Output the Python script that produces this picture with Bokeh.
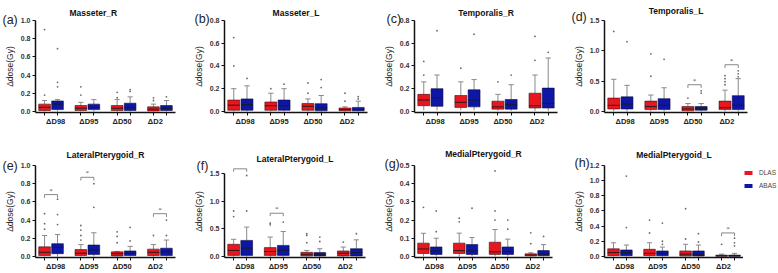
from bokeh.plotting import figure
from bokeh.models import (FactorRange, Range1d, ColumnDataSource, Legend, Title, Spacer,
                          LegendItem, FixedTicker, NumeralTickFormatter, CategoricalAxis)
from bokeh.transform import dodge
from bokeh.layouts import column, row
from bokeh.embed import file_html
from bokeh.resources import INLINE

CATS = ["ΔD98", "ΔD95", "ΔD50", "ΔD2"]
GROUPS = ["DLAS", "ABAS"]

# per category: (lower whisker, Q1, median, Q3, upper whisker)
MAS_R_DLAS = [(0.0, 0.01, 0.045, 0.08, 0.12), (0.0, 0.01, 0.035, 0.065, 0.10), (0.0, 0.01, 0.035, 0.065, 0.13), (0.0, 0.005, 0.025, 0.05, 0.08)]
MAS_R_DLAS_OUT = [[0.18, 0.90], [0.18, 0.27], [0.15, 0.21], [0.12, 0.15]]
MAS_R_ABAS = [(0.0, 0.02, 0.08, 0.115, 0.13), (0.0, 0.02, 0.045, 0.08, 0.13), (0.0, 0.01, 0.04, 0.09, 0.16), (0.0, 0.01, 0.035, 0.065, 0.12)]
MAS_R_ABAS_OUT = [[0.27, 0.32, 0.69], [], [0.22, 0.24], [0.16]]
MAS_R_SIG = []

MAS_L_DLAS = [(0.0, 0.01, 0.055, 0.10, 0.20), (0.0, 0.01, 0.05, 0.083, 0.16), (0.0, 0.01, 0.045, 0.07, 0.11), (0.0, 0.005, 0.015, 0.03, 0.04)]
MAS_L_DLAS_OUT = [[0.40, 0.65], [0.20], [0.16, 0.25], [0.09, 0.16]]
MAS_L_ABAS = [(0.0, 0.01, 0.06, 0.11, 0.225), (0.0, 0.01, 0.05, 0.10, 0.20), (0.0, 0.005, 0.03, 0.068, 0.14), (0.0, 0.005, 0.015, 0.035, 0.09)]
MAS_L_ABAS_OUT = [[0.29], [0.24], [0.21, 0.28], [0.11, 0.13]]
MAS_L_SIG = []

TEM_R_DLAS = [(0.01, 0.05, 0.10, 0.15, 0.26), (0.01, 0.035, 0.08, 0.14, 0.26), (0.005, 0.02, 0.04, 0.09, 0.15), (0.005, 0.03, 0.05, 0.16, 0.32)]
TEM_R_DLAS_OUT = [[0.32, 0.44], [0.38], [0.26], [0.45, 0.66]]
TEM_R_ABAS = [(0.01, 0.045, 0.12, 0.20, 0.32), (0.01, 0.04, 0.10, 0.19, 0.28), (0.005, 0.02, 0.06, 0.105, 0.235), (0.005, 0.03, 0.07, 0.205, 0.47)]
TEM_R_ABAS_OUT = [[0.71], [0.68], [0.32], [0.52]]
TEM_R_SIG = []

TEM_L_DLAS = [(0.0, 0.04, 0.10, 0.22, 0.53), (0.0, 0.03, 0.08, 0.17, 0.27), (0.0, 0.01, 0.04, 0.08, 0.13), (0.0, 0.03, 0.06, 0.17, 0.35)]
TEM_L_DLAS_OUT = [[1.32], [0.58, 0.95], [0.22], [0.44, 0.49, 0.54, 0.59]]
TEM_L_ABAS = [(0.0, 0.04, 0.12, 0.24, 0.43), (0.0, 0.03, 0.10, 0.21, 0.39), (0.0, 0.02, 0.05, 0.08, 0.13), (0.0, 0.03, 0.10, 0.26, 0.54)]
TEM_L_ABAS_OUT = [[1.15], [0.86], [0.30, 0.34], [0.57, 0.62, 0.67]]
TEM_L_SIG = [("ΔD50", 0.44), ("ΔD2", 0.77)]

LAT_R_DLAS = [(0.0, 0.01, 0.045, 0.105, 0.23), (0.0, 0.01, 0.035, 0.075, 0.13), (0.0, 0.005, 0.03, 0.05, 0.055), (0.0, 0.01, 0.045, 0.08, 0.13)]
LAT_R_DLAS_OUT = [[0.30, 0.36, 0.47], [0.18, 0.23, 0.29, 0.34], [0.15, 0.22, 0.27], [0.23]]
LAT_R_ABAS = [(0.0, 0.03, 0.10, 0.14, 0.24), (0.0, 0.02, 0.07, 0.125, 0.26), (0.0, 0.01, 0.035, 0.06, 0.11), (0.0, 0.01, 0.05, 0.09, 0.18)]
LAT_R_ABAS_OUT = [[0.35, 0.46, 0.63], [0.54, 0.80], [0.17, 0.32], [0.23, 0.40]]
LAT_R_SIG = [("ΔD98", 0.68), ("ΔD95", 0.87), ("ΔD2", 0.47)]

LAT_L_DLAS = [(0.0, 0.02, 0.11, 0.22, 0.31), (0.0, 0.02, 0.09, 0.16, 0.35), (0.0, 0.01, 0.04, 0.075, 0.11), (0.0, 0.01, 0.06, 0.10, 0.17)]
LAT_L_DLAS_OUT = [[0.72, 0.82], [0.57, 0.60], [0.25, 0.38, 0.41], [0.26]]
LAT_L_ABAS = [(0.0, 0.02, 0.15, 0.29, 0.53), (0.0, 0.02, 0.11, 0.20, 0.45), (0.0, 0.01, 0.04, 0.07, 0.14), (0.0, 0.01, 0.07, 0.14, 0.30)]
LAT_L_ABAS_OUT = [[0.82, 1.46], [0.62], [0.27, 0.35], [0.41]]
LAT_L_SIG = [("ΔD98", 1.58), ("ΔD95", 0.78)]

MED_R_DLAS = [(0.0, 0.016, 0.041, 0.073, 0.127), (0.0, 0.016, 0.032, 0.073, 0.128), (0.0, 0.011, 0.025, 0.078, 0.148), (0.0, 0.003, 0.007, 0.014, 0.02)]
MED_R_DLAS_OUT = [[0.27], [0.19, 0.21], [0.20, 0.25, 0.47], [0.07, 0.13]]
MED_R_ABAS = [(0.0, 0.011, 0.030, 0.052, 0.10), (0.0, 0.011, 0.03, 0.065, 0.104), (0.0, 0.011, 0.028, 0.052, 0.095), (0.0, 0.004, 0.012, 0.032, 0.065)]
MED_R_ABAS_OUT = [[0.136, 0.25], [0.265], [0.15, 0.20], [0.11]]
MED_R_SIG = []

MED_L_DLAS = [(0.0, 0.01, 0.05, 0.10, 0.18), (0.0, 0.01, 0.04, 0.094, 0.18), (0.0, 0.005, 0.03, 0.072, 0.16), (0.0, 0.002, 0.007, 0.017, 0.03)]
MED_L_DLAS_OUT = [[], [0.31, 0.48], [0.23, 0.63], [0.16]]
MED_L_ABAS = [(0.0, 0.01, 0.05, 0.085, 0.15), (0.0, 0.01, 0.04, 0.072, 0.123), (0.0, 0.005, 0.03, 0.072, 0.15), (0.0, 0.002, 0.007, 0.017, 0.04)]
MED_L_ABAS_OUT = [[0.38, 1.06], [0.16, 0.20, 0.44], [0.19, 0.30], [0.14, 0.18, 0.24]]
MED_L_SIG = [("ΔD2", 0.31)]

TITLES = ["Masseter_R", "Masseter_L", "Temporalis_R", "Temporalis_L",
          "LateralPterygoid_R", "LateralPterygoid_L", "MedialPterygoid_R", "MedialPterygoid_L"]
LETTERS = ["(a)", "(b)", "(c)", "(d)", "(e)", "(f)", "(g)", "(h)"]
YMAX = [1.0, 0.8, 0.8, 1.5, 1.0, 1.5, 0.5, 1.2]
YSTEP = [0.2, 0.2, 0.2, 0.5, 0.2, 0.5, 0.1, 0.2]
YTOP = [1.0, 0.8, 0.8, 1.5, 1.0, 1.64, 0.5, 1.2]

DATA = [
    (MAS_R_DLAS, MAS_R_DLAS_OUT, MAS_R_ABAS, MAS_R_ABAS_OUT, MAS_R_SIG),
    (MAS_L_DLAS, MAS_L_DLAS_OUT, MAS_L_ABAS, MAS_L_ABAS_OUT, MAS_L_SIG),
    (TEM_R_DLAS, TEM_R_DLAS_OUT, TEM_R_ABAS, TEM_R_ABAS_OUT, TEM_R_SIG),
    (TEM_L_DLAS, TEM_L_DLAS_OUT, TEM_L_ABAS, TEM_L_ABAS_OUT, TEM_L_SIG),
    (LAT_R_DLAS, LAT_R_DLAS_OUT, LAT_R_ABAS, LAT_R_ABAS_OUT, LAT_R_SIG),
    (LAT_L_DLAS, LAT_L_DLAS_OUT, LAT_L_ABAS, LAT_L_ABAS_OUT, LAT_L_SIG),
    (MED_R_DLAS, MED_R_DLAS_OUT, MED_R_ABAS, MED_R_ABAS_OUT, MED_R_SIG),
    (MED_L_DLAS, MED_L_DLAS_OUT, MED_L_ABAS, MED_L_ABAS_OUT, MED_L_SIG),
]

# ---------------- styling / layout (not data) ----------------
COLORS = {"DLAS": "#E8161E", "ABAS": "#0E16A6"}
FONT = "Liberation Sans"
# width, height, left, right, top, bottom, title standoff, letter standoff, letter x
LAYOUT = [
    (190, 135, 35, 15, 20, 22, 2, -14, 2),
    (190, 135, 30, 13, 19, 23, -2, -12, 0),
    (190, 135, 28, 13, 19, 23, -2, -12, 0),
    (208, 135, 33, 31, 19, 23, -4, -9, 0),
    (190, 138, 35, 15, 26, 15, 12, -18, 2),
    (190, 138, 30, 15, 20, 16, 4, -20, 2),
    (190, 138, 30, 18, 29, 16, 6, -12, 0),
    (173, 138, 32, 0, 30, 14, 0, -10, 2),
]


def make_panel(i):
    dlas, dlas_out, abas, abas_out, sig = DATA[i]
    W, H, L, R, T, B, tstand, lstand, lx = LAYOUT[i]
    ymax, ytop = YMAX[i], YTOP[i]
    y0 = -0.012 * ymax
    factors = [(c, g) for c in CATS for g in GROUPS]
    xr = FactorRange(*factors, group_padding=0.8, range_padding=0.2,
                     range_padding_units="absolute")
    p = figure(x_range=xr, y_range=Range1d(y0, ytop), width=W, height=H,
               min_border_left=L, min_border_right=R, min_border_top=T,
               min_border_bottom=B, output_backend="svg", toolbar_location=None,
               title=None)
    p.extra_x_ranges = {"cats": FactorRange(*CATS, factor_padding=1.8, range_padding=1.2,
                                            range_padding_units="absolute")}
    p.outline_line_color = None
    p.xgrid.visible = False
    p.ygrid.visible = False
    p.background_fill_color = "white"
    p.border_fill_color = "white"

    # panel letter (nearest the frame), then muscle title above it
    p.add_layout(Title(text=LETTERS[i], align="left", offset=lx - L, vertical_align="middle",
                       standoff=lstand, text_font=FONT, text_font_size="12.5px",
                       text_font_style="normal", text_color="#222222"), "above")
    if i == 0:
        mt = Title(text=TITLES[i], align="left", offset=34, standoff=tstand)
    else:
        mt = Title(text=TITLES[i], align="center", standoff=tstand)
    mt.text_font = FONT
    mt.text_font_size = "8.5px"
    mt.text_font_style = "bold"
    mt.text_color = "#111111"
    p.add_layout(mt, "above")

    # y axis
    ya = p.yaxis[0]
    nt = int(round(ymax / YSTEP[i]))
    ya.ticker = FixedTicker(ticks=[round(k * YSTEP[i], 3) for k in range(nt + 1)])
    ya.formatter = NumeralTickFormatter(format="0.0")
    ya.bounds = (y0, ymax)
    ya.axis_line_width = 1.5
    ya.axis_line_color = "#111111"
    ya.major_tick_out = 3
    ya.major_tick_in = 0
    ya.major_tick_line_color = "#111111"
    ya.minor_tick_line_color = None
    ya.major_label_text_font = FONT
    ya.major_label_text_font_size = "7px"
    ya.major_label_text_font_style = "bold"
    ya.major_label_text_color = "#333333"
    ya.major_label_standoff = 2
    ya.axis_label = "Δdose(Gy)"
    ya.axis_label_text_font = FONT
    ya.axis_label_text_font_size = "8.5px"
    ya.axis_label_text_font_style = "normal"
    ya.axis_label_text_color = "#222222"
    ya.axis_label_standoff = 3

    # x axis: ticks under every box (nested range), labels hidden
    xa = p.xaxis[0]
    xa.axis_line_width = 1.5
    xa.axis_line_color = "#111111"
    xa.major_tick_out = 3
    xa.major_tick_in = 0
    xa.major_tick_line_color = "#111111"
    xa.major_label_text_font_size = "1px"
    xa.major_label_text_alpha = 0
    xa.major_label_standoff = 0
    xa.separator_line_color = None
    xa.group_text_font_size = "1px"
    xa.group_text_alpha = 0

    # category labels, centred under each pair
    cax = CategoricalAxis(x_range_name="cats", axis_line_color=None,
                          major_tick_line_color=None, major_tick_out=0, major_tick_in=0,
                          minor_tick_line_color=None, major_label_standoff=1,
                          major_label_text_font=FONT, major_label_text_font_size="7.5px",
                          major_label_text_font_style="bold",
                          major_label_text_color="#222222")
    p.add_layout(cax, "below")

    for g, stats, outs in (("DLAS", dlas, dlas_out), ("ABAS", abas, abas_out)):
        src = ColumnDataSource(data=dict(
            x=[(c, g) for c in CATS],
            lo=[s[0] for s in stats], q1=[s[1] for s in stats],
            med=[s[2] for s in stats], q3=[s[3] for s in stats],
            hi=[s[4] for s in stats]))
        p.segment(x0="x", y0="q3", x1="x", y1="hi", source=src,
                  line_color="#8a8a8a", line_width=1)
        p.segment(x0="x", y0="lo", x1="x", y1="q1", source=src,
                  line_color="#8a8a8a", line_width=1)
        p.segment(x0=dodge("x", -0.2, range=xr), y0="hi",
                  x1=dodge("x", 0.2, range=xr), y1="hi", source=src,
                  line_color="#8a8a8a", line_width=1)
        p.vbar(x="x", width=0.9, bottom="q1", top="q3", source=src,
               fill_color=COLORS[g], line_color="#3a1010" if g == "DLAS" else "#0a0a40",
               line_width=0.6)
        p.segment(x0=dodge("x", -0.45, range=xr), y0="med",
                  x1=dodge("x", 0.45, range=xr), y1="med", source=src,
                  line_color="#1a1a1a", line_width=0.9)
        ox, oy = [], []
        for c, vals in zip(CATS, outs):
            for v in vals:
                ox.append((c, g))
                oy.append(v)
        osrc = ColumnDataSource(data=dict(x=ox, y=oy))
        p.scatter(x="x", y="y", source=osrc, size=1.8, marker="circle",
                  fill_color="#6a6a6a", line_color=None)

    if sig:
        tick = 0.035 * ymax
        ssrc = ColumnDataSource(data=dict(
            cat=[s[0] for s in sig],
            x0=[(s[0], "DLAS") for s in sig],
            x1=[(s[0], "ABAS") for s in sig],
            y=[s[1] for s in sig],
            ylow=[s[1] - tick for s in sig],
            star=["*" for s in sig]))
        p.segment(x0="x0", y0="y", x1="x1", y1="y", source=ssrc,
                  line_color="#7a7a7a", line_width=0.9)
        p.segment(x0="x0", y0="y", x1="x0", y1="ylow", source=ssrc,
                  line_color="#7a7a7a", line_width=0.9)
        p.segment(x0="x1", y0="y", x1="x1", y1="ylow", source=ssrc,
                  line_color="#7a7a7a", line_width=0.9)
        p.text(x="cat", y="y", text="star", source=ssrc, text_align="center",
               text_baseline="middle", text_font_size="7px", y_offset=-4,
               text_color="#555555", text_font=FONT)
    return p


def make_legend_box(width, height):
    q = figure(width=width, height=height, x_axis_type=None, y_axis_type=None,
               x_range=Range1d(0, 1), y_range=Range1d(0, 1),
               min_border_left=0, min_border_right=0, min_border_top=0,
               min_border_bottom=0, output_backend="svg", toolbar_location=None)
    q.outline_line_color = None
    q.xgrid.visible = False
    q.ygrid.visible = False
    items = []
    for g in GROUPS:
        # zero-size proxy bar: only its legend swatch is seen
        r = q.vbar(x=[0], bottom=[0], top=[0], width=0, fill_color=COLORS[g],
                   line_color=None)
        items.append(LegendItem(label=g, renderers=[r]))
    legend = Legend(items=items, location="top_left", orientation="vertical",
                    glyph_width=10, glyph_height=5, label_standoff=6,
                    label_text_font=FONT, label_text_font_size="6.5px",
                    label_text_color="#444444", spacing=5, padding=0, margin=0,
                    border_line_color=None, background_fill_alpha=0,
                    label_height=8)
    q.add_layout(legend)
    return q


panels = [make_panel(i) for i in range(8)]
legend_col = column(Spacer(width=35, height=33), make_legend_box(35, 40))
layout = column(row(*panels[:4]), row(*panels[4:], legend_col))
open("out.html", "w").write(file_html(layout, INLINE))
